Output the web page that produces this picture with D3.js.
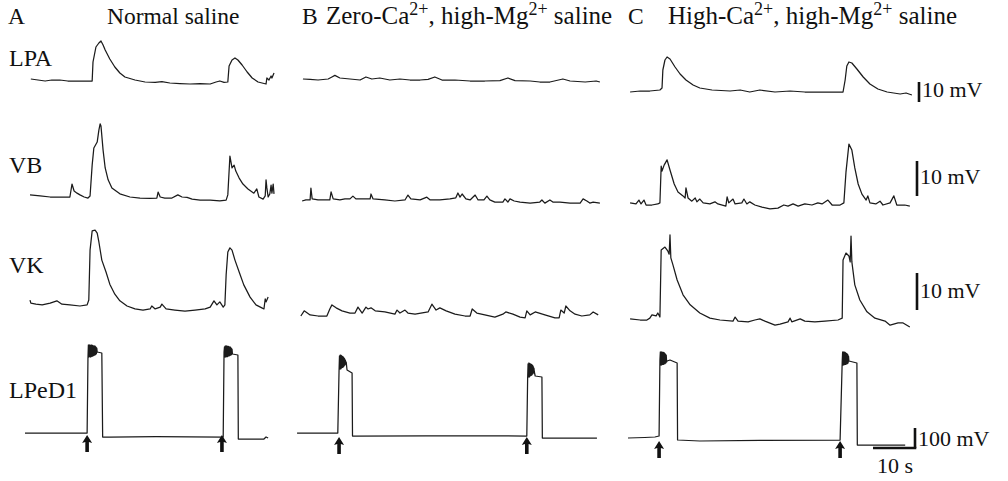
<!DOCTYPE html>
<html>
<head>
<meta charset="utf-8">
<title>Synaptic inputs, three salines</title>
<script src="https://d3js.org/d3.v7.min.js"></script>
<style>
  body { margin: 0; background: #ffffff; }
  svg text { font-family: "Liberation Serif", "Times New Roman", serif; fill: #111; }
  .head { font-size: 23.5px; }
  .head.wide { font-size: 25px; }
  .cell { font-size: 24px; }
  .scale { font-size: 22px; }
  .trace { fill: none; stroke: #1b1b1b; stroke-width: 1.25px; stroke-linejoin: round; }
  .bar { stroke: #111; stroke-width: 2.6px; fill: none; }
  .arrow { fill: #111; }
</style>
</head>
<body>
<svg id="fig" width="1008" height="481"></svg>
<script>
// time in s, potential in mV (relative to the resting level of each trace)
const panelIds = ["A", "B", "C"];
const panelTitles = [
  [["Normal saline"]],
  [["Zero-Ca"], ["2+", "sup"], [", high-Mg"], ["2+", "sup"], [" saline"]],
  [["High-Ca"], ["2+", "sup"], [", high-Mg"], ["2+", "sup"], [" saline"]]
];
const cellNames = ["LPA", "VB", "VK", "LPeD1"];

const lpaA = [[0.2,1.5],[1.9,1],[3.6,0.5],[5.2,1],[7.1,1],[9.0,0.5],[10.7,0.5],[12.9,0.5],[14.8,0.5],[15.0,10],[15.7,17.5],[16.4,19.5],[16.9,20.5],[17.4,18.5],[17.9,16],[19.0,11.5],[20.2,7.5],[21.4,4.5],[22.6,2.5],[25.0,1],[27.4,0],[29.8,-0.2],[31.4,0.2],[33.3,-0.5],[35.7,-0.8],[38.1,-1],[40.5,-0.8],[42.9,-1],[44.3,0],[45.2,0.5],[46.2,-0.2],[47.1,0],[47.4,8],[48.1,11],[48.8,12],[49.5,11],[50.5,8.5],[51.7,5],[52.9,2],[54.3,0],[56.2,-1],[56.4,2],[56.9,1],[57.4,3],[57.6,2],[58.1,4.5]];
const lpaB = [[0.7,1],[2.4,0.8],[4.3,0.5],[6.7,1],[7.6,2],[8.3,2.8],[9.5,1.5],[11.9,1],[14.3,0.5],[15.7,2],[17.1,1],[19.0,1.5],[21.4,0.5],[23.8,1],[26.2,0.5],[28.6,0.5],[30.5,0.8],[32.1,2],[33.8,0.5],[36.9,0.5],[40.5,0],[44.0,0],[47.6,0.2],[49.5,1.5],[51.2,0.2],[54.8,0],[57.1,-0.5],[59.5,-0.5],[62.6,1],[64.3,0],[67.9,-0.5],[70.5,0],[71.4,-0.5]];
const lpaC = [[0.5,0],[2.9,0.5],[5.2,0.5],[7.6,1],[8.1,2],[8.3,11],[8.8,16],[9.3,17.5],[10.0,16.5],[11.2,12.5],[12.4,9],[13.8,6],[15.5,3.5],[17.1,2],[20.0,1],[24.3,0.5],[26.7,1],[29.0,0],[31.4,1],[35.0,0],[38.6,0.5],[42.1,0],[45.7,0],[51.2,0],[51.7,6],[52.1,13],[52.6,15],[53.3,14.5],[54.5,11.5],[56.0,7.5],[57.6,4],[59.5,1.5],[61.7,0],[64.8,-1],[66.2,-0.5],[67.6,-1.5]];

const vbA = [[0,0.6],[2.4,0.3],[4.8,0],[7.1,0],[9.5,0],[10.0,3.7],[10.5,1.7],[11.2,1.1],[11.9,0.6],[12.9,0],[13.8,-0.3],[14.3,0.3],[14.8,9.1],[15.2,14],[16.0,15.7],[16.4,19.1],[16.7,20.9],[16.9,20.3],[17.4,13.4],[17.9,8.3],[18.6,4.9],[19.5,2.6],[21.4,0.9],[23.8,0],[26.2,-0.3],[28.6,-0.4],[30.2,-0.3],[30.5,1.4],[31.0,0],[32.1,-0.3],[33.8,-0.3],[35.2,0.6],[36.2,0],[37.4,-0.1],[38.6,-0.6],[40.5,-0.9],[42.9,-0.9],[45.2,-1.1],[46.7,-0.9],[47.1,0.6],[47.6,11.7],[48.1,8.3],[48.6,9.1],[49.0,7.4],[49.8,5.4],[50.7,3.7],[51.9,2.3],[53.3,1.1],[54.0,2.3],[54.5,0],[55.5,-0.6],[56.0,0.3],[56.2,4.9],[56.4,2.6],[56.7,0],[57.1,0.9],[57.4,3.4],[57.6,1.1],[57.9,3.7],[58.1,0.9]];
const vbB = [[0.5,0],[1.4,0.3],[2.4,0.3],[2.6,3.7],[2.9,0.6],[4.3,0.3],[6.0,0.3],[7.1,0.3],[7.4,2.6],[7.9,0.6],[9.5,0.3],[10.7,0.6],[11.9,0.6],[12.6,1.4],[13.3,0.6],[15.0,0.6],[16.7,0.6],[16.9,2],[17.4,0.6],[20.2,0.3],[22.6,0],[25.0,0.3],[25.7,1.7],[26.4,0.6],[28.6,0.3],[30.2,1.1],[31.0,0.3],[33.3,0.3],[35.7,0.6],[37.1,0.9],[37.6,2.3],[38.1,1.1],[38.6,2],[39.5,0.6],[40.5,0.3],[41.7,1.7],[42.4,0.3],[43.8,0.3],[44.5,1.4],[45.2,0.3],[46.4,-0.3],[48.3,-0.3],[48.8,0.6],[49.5,-0.3],[50.0,0.6],[51.0,0],[52.4,-0.3],[54.8,-0.6],[57.1,-0.3],[57.6,0.3],[58.3,-0.6],[59.5,0.3],[60.2,-0.3],[61.9,-0.3],[64.3,-0.6],[66.7,-0.6],[67.4,0.6],[68.3,0],[69.0,-0.6],[69.8,-0.3],[71.4,-0.6]];
const vbC = [[0.5,0.6],[1.9,0.3],[2.6,1.4],[3.1,0.3],[3.8,1.4],[4.3,0],[5.7,0],[7.1,0.3],[7.6,0.6],[7.9,11.1],[8.1,9.7],[8.6,11.4],[9.3,12.9],[10.0,10],[11.0,6],[11.9,3.7],[13.1,2.6],[13.6,2],[13.8,4.9],[14.3,2],[15.2,1.1],[16.0,2],[16.4,0.9],[17.1,1.7],[17.9,0.6],[19.5,0.3],[20.7,0.9],[21.4,0.3],[23.3,-0.3],[23.6,2.3],[24.0,0.6],[25.0,1.7],[25.5,0.3],[27.1,0.6],[27.6,1.7],[28.3,0.3],[29.0,0.9],[30.2,0],[31.9,-0.6],[33.8,-1.1],[35.7,-0.9],[37.1,0],[38.1,-0.3],[39.3,0.3],[40.5,-0.3],[42.1,0.3],[43.8,0],[45.2,0.6],[46.2,0.3],[47.6,1.4],[48.6,0],[50.5,0],[51.4,0.6],[51.9,9.4],[52.6,17.4],[53.3,15.7],[54.0,10.6],[54.8,6],[55.7,3.1],[56.7,1.4],[57.1,2.6],[57.6,0.6],[59.0,0.3],[60.0,1.1],[60.7,0],[62.4,0.6],[63.3,2.6],[64.0,0],[65.9,0],[67.1,-0.3]];

const vkA = [[0,1.6],[0.2,0.8],[1.4,0.5],[2.9,0.3],[4.8,0.8],[6.4,1.4],[7.6,0.5],[9.5,0.3],[11.9,0],[13.6,0.3],[14.0,1.6],[14.3,15.1],[14.8,20.3],[15.5,20.5],[16.0,19.7],[16.4,17.3],[17.1,12.4],[18.1,9.2],[19.0,5.9],[20.2,3.2],[21.4,1.4],[23.1,0],[25.0,-0.8],[26.9,-1.1],[28.6,-0.8],[29.0,0],[29.8,-0.8],[31.0,-0.3],[31.4,0.5],[32.4,-0.8],[34.5,-1.1],[36.9,-1.4],[39.3,-1.1],[41.7,-0.8],[42.9,-0.3],[43.8,1.4],[44.5,0.3],[45.2,1.1],[46.0,-0.3],[46.4,0.3],[46.7,8.4],[47.1,14.6],[47.6,15.7],[48.1,15.1],[48.8,12.4],[49.8,9.2],[50.9,5.7],[52.4,2.4],[53.8,0.3],[55.2,-0.5],[55.7,-0.8],[56.0,1.9],[56.2,1.1],[56.7,2.4]];
const vkB = [[0.2,0],[1.0,1.4],[2.4,0.3],[4.3,0],[6.4,0],[7.1,1.9],[7.6,3],[8.6,2.2],[10.0,1.4],[11.9,0.8],[13.1,0.8],[13.8,2.4],[14.8,0.8],[15.7,2.4],[16.2,1.9],[16.9,2.2],[17.9,1.4],[20.2,1.1],[22.6,0.5],[23.1,1.6],[23.8,0.8],[25.0,1.6],[25.7,0.8],[27.4,0.5],[30.5,1.1],[31.4,3.2],[32.4,1.6],[33.3,2.2],[34.8,1.4],[36.9,0.5],[39.3,0],[40.5,0],[41.0,1.9],[42.1,0.8],[44.0,0.3],[46.4,-0.3],[48.3,0.5],[49.0,1.1],[50.7,0.5],[52.4,-0.3],[53.6,-0.5],[54.0,1.4],[54.8,0.3],[56.0,1.1],[58.3,0.3],[60.7,-0.5],[61.7,-0.5],[62.1,1.6],[62.9,0.8],[63.3,2.7],[64.3,1.4],[65.5,0.5],[67.1,0],[69.0,0.3],[69.8,1.1],[71.0,0.3]];
const vkC = [[0.5,0.3],[2.9,0],[4.5,0],[5.2,0.5],[5.7,1.4],[6.7,1.1],[7.1,1.9],[7.6,0.8],[7.9,18.9],[8.8,19.7],[9.5,18.6],[9.8,17.8],[10.0,23],[10.2,16.8],[10.7,14.9],[11.7,10.8],[13.1,6.8],[14.8,4.1],[17.1,1.9],[19.5,0.5],[21.9,0],[25.0,-0.3],[25.5,0.8],[26.2,-0.3],[28.6,-0.5],[30.2,0],[31.4,0.3],[32.6,-0.3],[35.0,-1.4],[36.2,-1.1],[38.1,-0.5],[38.6,0.5],[39.0,-0.5],[41.0,0.3],[42.1,-0.3],[44.5,-0.5],[46.9,-0.3],[50.0,0],[51.0,0.5],[51.2,16.2],[51.9,18.1],[52.6,17.3],[52.9,15.7],[53.1,22.7],[53.3,15.7],[54.0,9.5],[55.2,5.4],[56.9,2.2],[58.8,0.5],[61.2,-0.3],[62.4,-1.4],[64.3,-0.8],[65.5,-0.8],[67.1,-1.9]];

const lpedA = [[-1.2,0],[13.6,0],[13.8,375],[13.9,440],[14.0,380],[14.1,440],[14.2,382],[14.3,440],[14.4,380],[14.5,438],[14.6,382],[14.7,440],[14.8,384],[14.9,438],[15.0,385],[15.1,436],[15.2,388],[15.3,436],[15.4,390],[15.5,434],[15.6,392],[15.7,430],[15.8,396],[15.9,425],[16.0,405],[17.1,400],[17.3,-20],[19.0,-20],[30.0,-18],[46.0,-20],[46.2,405],[46.3,430],[46.4,380],[46.5,435],[46.6,380],[46.7,435],[46.8,382],[46.9,435],[47.0,382],[47.1,433],[47.2,385],[47.3,433],[47.4,385],[47.5,430],[47.6,388],[47.7,430],[47.8,390],[47.9,425],[48.0,392],[48.1,420],[48.2,395],[49.5,390],[49.6,-30],[54.8,-30],[55.7,-30],[56.2,-20],[56.7,-25]];
const lpedB = [[-0.7,0],[9.0,0],[9.3,315],[9.4,385],[9.5,320],[9.6,390],[9.7,320],[9.8,388],[9.9,325],[10.0,385],[10.1,328],[10.2,382],[10.3,330],[10.4,378],[10.5,335],[10.6,372],[10.7,340],[10.8,365],[10.9,345],[11.0,355],[11.2,315],[12.4,300],[12.5,-15],[30.0,-14],[54.0,-15],[54.2,275],[54.3,345],[54.4,280],[54.5,350],[54.6,280],[54.7,348],[54.8,285],[54.9,345],[55.0,288],[55.1,343],[55.2,290],[55.3,340],[55.4,295],[55.5,335],[55.6,300],[55.7,325],[55.8,305],[56.0,285],[57.6,280],[57.7,-25],[70.7,-25]];
const lpedC = [[0,0],[4.0,2.5],[6.4,5],[7.4,10],[7.6,390],[7.7,430],[7.8,365],[7.9,430],[8.0,365],[8.1,430],[8.2,368],[8.3,428],[8.4,368],[8.5,428],[8.6,370],[8.7,425],[8.8,372],[8.9,420],[9.0,375],[9.1,415],[9.2,380],[9.3,385],[10.0,390],[11.7,375],[11.8,-10],[17.1,-15],[31.4,-12],[50.5,-10],[51.0,380],[51.1,430],[51.2,365],[51.3,430],[51.4,365],[51.5,430],[51.6,368],[51.7,428],[51.8,368],[51.9,425],[52.0,370],[52.1,422],[52.2,372],[52.3,418],[52.4,375],[52.5,410],[52.6,385],[54.5,375],[54.6,-35],[66.0,-35]];

// stimulus times (arrows under LPeD1), per panel
const stimA = [13.6, 45.7];
const stimB = [9.3, 54.0];
const stimC = [7.4, 50.5];

// scale bars
const barMv = [10, 10, 10, 100];
const barSec = 10;

// ---------- layout ----------
const pxPerSec = 4.2;
const panelX = { A: 30, B: 300, C: 628 };
const traces = [
  { panel: "A", data: lpaA, base: 82, k: 2 },
  { panel: "B", data: lpaB, base: 81, k: 2 },
  { panel: "C", data: lpaC, base: 92, k: 2 },
  { panel: "A", data: vbA, base: 197, k: 3.5 },
  { panel: "B", data: vbB, base: 201, k: 3.5 },
  { panel: "C", data: vbC, base: 205, k: 3.5 },
  { panel: "A", data: vkA, base: 306, k: 3.7 },
  { panel: "B", data: vkB, base: 316, k: 3.7 },
  { panel: "C", data: vkC, base: 320, k: 3.7 },
  { panel: "A", data: lpedA, base: 433, k: 0.2 },
  { panel: "B", data: lpedB, base: 433, k: 0.2 },
  { panel: "C", data: lpedC, base: 438, k: 0.2 }
];
const stim = { A: stimA, B: stimB, C: stimC };
const arrowTip = { A: 435, B: 437, C: 441 };

const svg = d3.select("#fig");

function xScale(p) {
  const x0 = panelX[p];
  return d3.scaleLinear().domain([0, 10]).range([x0, x0 + 10 * pxPerSec]);
}
function yScale(base, k) {
  return d3.scaleLinear().domain([0, 10]).range([base, base - 10 * k]);
}

// traces
traces.forEach(function(tr) {
  const x = xScale(tr.panel);
  const y = yScale(tr.base, tr.k);
  const line = d3.line().x(d => x(d[0])).y(d => y(d[1]));
  svg.append("path")
    .datum(tr.data)
    .attr("class", "trace")
    .attr("d", line);
});

// stimulus arrows
const arrowShape = "M0,0 L5,8 L1.8,7 L1.8,17 L-1.8,17 L-1.8,7 L-5,8 Z";
panelIds.forEach(function(p) {
  const x = xScale(p);
  svg.selectAll(".arrow" + p)
    .data(stim[p])
    .enter().append("path")
    .attr("class", "arrow")
    .attr("d", arrowShape)
    .attr("transform", d => "translate(" + x(d) + "," + arrowTip[p] + ")");
});

// panel headers
const headerX = [{ letter: 8, title: 107 }, { letter: 302, title: 326 }, { letter: 628, title: 668 }];
panelIds.forEach(function(p, i) {
  svg.append("text").attr("class", "head").attr("x", headerX[i].letter).attr("y", 24).text(p);
  const t = svg.append("text").attr("class", i > 0 ? "head wide" : "head")
    .attr("x", headerX[i].title).attr("y", 24);
  let raised = false;
  panelTitles[i].forEach(function(seg) {
    if (seg[1] === "sup") {
      t.append("tspan").attr("dy", -9).style("font-size", "18px").text(seg[0]);
      raised = true;
    } else {
      t.append("tspan").attr("dy", raised ? 9 : 0).text(seg[0]);
      raised = false;
    }
  });
});

// cell labels
const labelY = [66, 173, 273, 398];
cellNames.forEach(function(name, i) {
  svg.append("text").attr("class", "cell").attr("x", 9).attr("y", labelY[i]).text(name);
});

// scale bars
const barSpec = [
  { x: 919, bottom: 102, k: 2, ty: 97 },
  { x: 917, bottom: 196, k: 3.5, ty: 184 },
  { x: 917, bottom: 310, k: 3.7, ty: 298 },
  { x: 915, bottom: 448, k: 0.2, ty: 446 }
];
barSpec.forEach(function(b, i) {
  const y = yScale(b.bottom, b.k);
  svg.append("line").attr("class", "bar")
    .attr("x1", b.x).attr("x2", b.x)
    .attr("y1", y(0)).attr("y2", y(barMv[i]));
  svg.append("text").attr("class", "scale").attr("x", b.x + 3).attr("y", b.ty).text(barMv[i] + " mV");
});
const xs = d3.scaleLinear().domain([0, barSec]).range([915 - barSec * pxPerSec, 915]);
svg.append("line").attr("class", "bar")
  .attr("x1", xs(0)).attr("x2", xs(barSec) + 1.3)
  .attr("y1", 448).attr("y2", 448);
svg.append("text").attr("class", "scale").attr("x", 877).attr("y", 473).text(barSec + " s");
</script>
</body>
</html>
